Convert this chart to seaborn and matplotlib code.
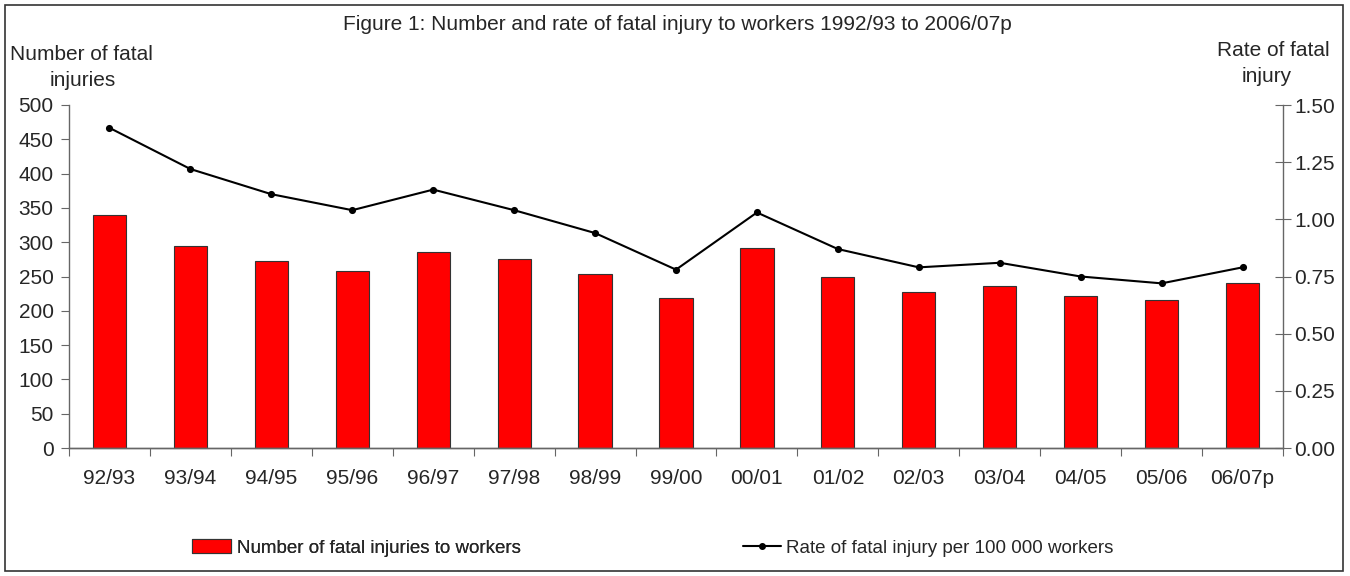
import seaborn as sns
import matplotlib.pyplot as plt
import pandas as pd
from matplotlib.patches import Rectangle
from matplotlib.lines import Line2D

# Data
years = ['92/93', '93/94', '94/95', '95/96', '96/97', '97/98', '98/99', '99/00',
         '00/01', '01/02', '02/03', '03/04', '04/05', '05/06', '06/07p']
fatal_injuries = [340, 294, 272, 258, 286, 275, 253, 219, 292, 250, 227, 236, 222, 216, 241]
fatal_rate = [1.40, 1.22, 1.11, 1.04, 1.13, 1.04, 0.94, 0.78, 1.03, 0.87, 0.79, 0.81, 0.75, 0.72, 0.79]
rate_ticks = [0, 0.25, 0.5, 0.75, 1.0, 1.25, 1.5]

df = pd.DataFrame({'year': years, 'count': fatal_injuries, 'rate': fatal_rate})

sns.set_style('white')
plt.rcParams['font.family'] = ['Liberation Sans', 'DejaVu Sans']

W, H = 1350, 576
fig = plt.figure(figsize=(13.5, 5.76), dpi=100)
ax = fig.add_axes([69 / W, 1 - 448 / H, (1283 - 69) / W, (448 - 105) / H])

# Bars: number of fatal injuries
sns.barplot(data=df, x='year', y='count', color='#ff0000', saturation=1,
            width=0.41, edgecolor='#333333', linewidth=0.8, ax=ax)
ax.set_ylim(0, 500)
ax.set_xlim(-0.5, len(years) - 0.5)
ax.set_yticks(range(0, 501, 50))
ax.set_xlabel('')
ax.set_ylabel('')

# Line: rate of fatal injury on the right axis
ax2 = ax.twinx()
sns.pointplot(data=df, x='year', y='rate', color='black', markers='o',
              markersize=4, linewidth=1.5, ax=ax2)
ax2.set_ylim(0, 1.5)
ax2.set_xlim(-0.5, len(years) - 0.5)
ax2.set_yticks(rate_ticks)
ax2.set_yticklabels([f'{v:.2f}' for v in rate_ticks])
ax2.set_ylabel('')
ax2.set_xlabel('')

# Spines and ticks
for a in (ax, ax2):
    a.spines['top'].set_visible(False)
ax.spines['right'].set_visible(False)
ax2.spines['left'].set_visible(False)
for a in (ax, ax2):
    for s in ['left', 'right', 'bottom']:
        a.spines[s].set_color('#666666')
        a.spines[s].set_linewidth(1)

fs = 15
ax.tick_params(axis='y', direction='out', length=6, color='#666666', labelsize=fs, pad=5, left=True)
ax2.tick_params(axis='y', direction='inout', length=12, color='#666666', labelsize=fs, pad=2, right=True)
# x ticks between categories, labels centred under bars
ax.set_xticks([i - 0.5 for i in range(len(years) + 1)], minor=False)
ax.set_xticklabels([])
ax.set_xticks(range(len(years)), minor=True)
ax.set_xticklabels(years, minor=True)
ax.tick_params(axis='x', which='major', direction='out', length=6, color='#666666', bottom=True)
ax.tick_params(axis='x', which='minor', length=0, labelsize=fs, pad=15)

# Axis titles and chart title
fig.text(10 / W, 1 - 54 / H, 'Number of fatal', fontsize=fs, ha='left', va='center')
fig.text(83 / W, 1 - 80 / H, 'injuries', fontsize=fs, ha='center', va='center')
fig.text(1330 / W, 1 - 50 / H, 'Rate of fatal', fontsize=fs, ha='right', va='center')
fig.text(1267 / W, 1 - 76 / H, 'injury', fontsize=fs, ha='center', va='center')
fig.text(677 / W, 1 - 25 / H,
         'Figure 1: Number and rate of fatal injury to workers 1992/93 to 2006/07p',
         fontsize=15, ha='center', va='center')

# Legend at the bottom, two entries placed separately
bar_handle = Rectangle((0, 0), 1, 1, facecolor='#ff0000', edgecolor='#333333', linewidth=0.8)
line_handle = Line2D([0], [0], color='black', marker='o', markersize=4, linewidth=1.5)
leg1 = fig.legend([bar_handle], ['Number of fatal injuries to workers'], loc='center left',
                  bbox_to_anchor=(192 / W, 1 - 548 / H), frameon=False, fontsize=13.5,
                  handlelength=2.1, handletextpad=0.3, borderpad=0, borderaxespad=0)
fig.legend([line_handle], ['Rate of fatal injury per 100 000 workers'], loc='center left',
           bbox_to_anchor=(743 / W, 1 - 548 / H), frameon=False, fontsize=13.5,
           handlelength=2.0, handletextpad=0.3, borderpad=0, borderaxespad=0)
fig.add_artist(leg1)

# Outer border
fig.patches.append(Rectangle((5 / W, 5 / H), (1343 - 5) / W, (571 - 5) / H,
                             transform=fig.transFigure, fill=False,
                             edgecolor='#333333', linewidth=1.2))

fig.savefig('out.png', dpi=100)
